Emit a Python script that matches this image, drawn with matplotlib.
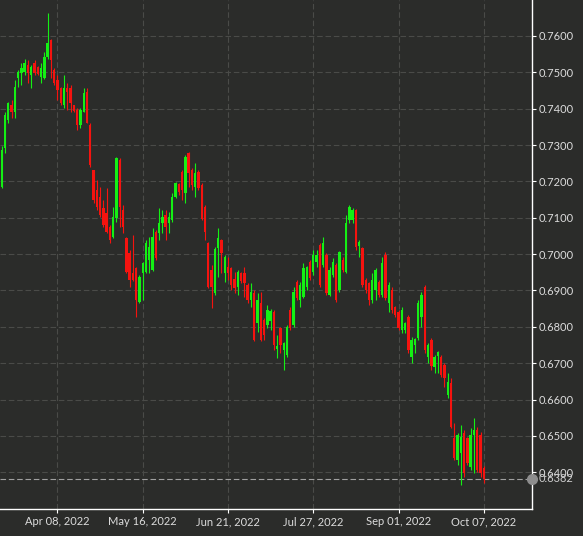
import numpy as np
import pandas as pd
import matplotlib
matplotlib.use("Agg")
import matplotlib.pyplot as plt

# daily OHLC, one candle per business day from 2022-03-16
opens = [
    0.7185, 0.7292, 0.7369, 0.7410, 0.7391, 0.7485, 0.7498, 0.7501, 0.7520, 0.7493,
    0.7526, 0.7515, 0.7487, 0.7485, 0.7542, 0.7589, 0.7507, 0.7479, 0.7457, 0.7410,
    0.7457, 0.7457, 0.7410, 0.7397, 0.7355, 0.7391, 0.7446, 0.7355, 0.7232, 0.7177,
    0.7157, 0.7127, 0.7113, 0.7075, 0.7047, 0.7100, 0.7259, 0.7122, 0.7044, 0.7003,
    0.6948, 0.6962, 0.6869, 0.6948, 0.6951, 0.6984, 0.6957, 0.7061, 0.7058, 0.7086,
    0.7108, 0.7086, 0.7094, 0.7157, 0.7193, 0.7226, 0.7168, 0.7278, 0.7232, 0.7185,
    0.7226, 0.7190, 0.7130, 0.7031, 0.6957, 0.6893, 0.7017, 0.7039, 0.6948, 0.6965,
    0.6962, 0.6932, 0.6910, 0.6948, 0.6948, 0.6915, 0.6874, 0.6893, 0.6811, 0.6866,
    0.6819, 0.6805, 0.6816, 0.6841, 0.6739, 0.6797, 0.6736, 0.6723, 0.6846, 0.6805,
    0.6924, 0.6874, 0.6882, 0.6910, 0.6979, 0.6951, 0.6979, 0.7025, 0.6970, 0.6998,
    0.6888, 0.6943, 0.6970, 0.6901, 0.6984, 0.6951, 0.7094, 0.7094, 0.7122, 0.7022,
    0.7017, 0.6929, 0.6921, 0.6874, 0.6901, 0.6924, 0.6888, 0.6998, 0.6866, 0.6901,
    0.6855, 0.6841, 0.6791, 0.6791, 0.6827, 0.6717, 0.6750, 0.6769, 0.6827, 0.6910,
    0.6717, 0.6764, 0.6689, 0.6720, 0.6717, 0.6695, 0.6613, 0.6646, 0.6494, 0.6434,
    0.6453, 0.6508, 0.6494, 0.6415, 0.6503, 0.6516, 0.6503, 0.6412,
]
highs = [
    0.7298, 0.7391, 0.7419, 0.7424, 0.7479, 0.7507, 0.7526, 0.7537, 0.7534, 0.7520,
    0.7534, 0.7518, 0.7526, 0.7556, 0.7663, 0.7592, 0.7512, 0.7493, 0.7460, 0.7493,
    0.7471, 0.7465, 0.7410, 0.7402, 0.7402, 0.7457, 0.7457, 0.7361, 0.7232, 0.7204,
    0.7185, 0.7149, 0.7182, 0.7080, 0.7130, 0.7267, 0.7264, 0.7135, 0.7047, 0.7012,
    0.7053, 0.6965, 0.6943, 0.6979, 0.7039, 0.7047, 0.7072, 0.7066, 0.7127, 0.7122,
    0.7122, 0.7116, 0.7168, 0.7199, 0.7196, 0.7232, 0.7273, 0.7281, 0.7237, 0.7251,
    0.7232, 0.7196, 0.7135, 0.7033, 0.6970, 0.7020, 0.7072, 0.7042, 0.6998, 0.6992,
    0.6965, 0.6951, 0.6957, 0.6951, 0.6965, 0.6921, 0.6921, 0.6901, 0.6893, 0.6896,
    0.6824, 0.6860, 0.6849, 0.6846, 0.6778, 0.6800, 0.6758, 0.6805, 0.6855, 0.6910,
    0.6929, 0.6924, 0.6976, 0.6968, 0.6984, 0.7012, 0.7012, 0.7031, 0.7047, 0.7003,
    0.6965, 0.6989, 0.6976, 0.7009, 0.6992, 0.7108, 0.7135, 0.7127, 0.7125, 0.7039,
    0.7020, 0.6934, 0.6924, 0.6948, 0.6962, 0.6929, 0.6992, 0.7006, 0.6924, 0.6910,
    0.6858, 0.6846, 0.6855, 0.6813, 0.6833, 0.6772, 0.6769, 0.6874, 0.6896, 0.6915,
    0.6756, 0.6769, 0.6723, 0.6733, 0.6723, 0.6701, 0.6673, 0.6659, 0.6535, 0.6508,
    0.6530, 0.6516, 0.6497, 0.6521, 0.6549, 0.6524, 0.6510, 0.6417,
]
lows = [
    0.7182, 0.7278, 0.7361, 0.7375, 0.7375, 0.7460, 0.7465, 0.7493, 0.7471, 0.7457,
    0.7493, 0.7493, 0.7471, 0.7482, 0.7538, 0.7485, 0.7465, 0.7424, 0.7410, 0.7402,
    0.7397, 0.7391, 0.7391, 0.7342, 0.7347, 0.7391, 0.7361, 0.7240, 0.7141, 0.7122,
    0.7102, 0.7075, 0.7058, 0.7031, 0.7044, 0.7089, 0.7075, 0.7058, 0.6948, 0.6910,
    0.6926, 0.6827, 0.6866, 0.6874, 0.6948, 0.6948, 0.6954, 0.6984, 0.7039, 0.7058,
    0.7039, 0.7058, 0.7089, 0.7155, 0.7163, 0.7149, 0.7141, 0.7185, 0.7177, 0.7157,
    0.7177, 0.7094, 0.7039, 0.6907, 0.6852, 0.6888, 0.6937, 0.6948, 0.6924, 0.6929,
    0.6901, 0.6893, 0.6888, 0.6921, 0.6882, 0.6866, 0.6855, 0.6761, 0.6786, 0.6761,
    0.6764, 0.6797, 0.6791, 0.6736, 0.6714, 0.6728, 0.6681, 0.6717, 0.6791, 0.6800,
    0.6874, 0.6855, 0.6879, 0.6901, 0.6929, 0.6943, 0.6965, 0.6910, 0.6965, 0.6888,
    0.6885, 0.6937, 0.6869, 0.6896, 0.6951, 0.6948, 0.7086, 0.7086, 0.7012, 0.6992,
    0.6910, 0.6893, 0.6860, 0.6866, 0.6874, 0.6882, 0.6882, 0.6874, 0.6841, 0.6838,
    0.6827, 0.6791, 0.6783, 0.6783, 0.6728, 0.6701, 0.6728, 0.6764, 0.6800, 0.6728,
    0.6701, 0.6681, 0.6673, 0.6673, 0.6662, 0.6634, 0.6604, 0.6521, 0.6434, 0.6420,
    0.6365, 0.6387, 0.6420, 0.6406, 0.6398, 0.6401, 0.6387, 0.6370,
]
closes = [
    0.7287, 0.7383, 0.7416, 0.7391, 0.7460, 0.7501, 0.7512, 0.7526, 0.7498, 0.7515,
    0.7498, 0.7496, 0.7512, 0.7542, 0.7581, 0.7534, 0.7471, 0.7452, 0.7416, 0.7457,
    0.7446, 0.7416, 0.7394, 0.7355, 0.7397, 0.7443, 0.7361, 0.7245, 0.7149, 0.7130,
    0.7108, 0.7080, 0.7061, 0.7039, 0.7102, 0.7264, 0.7130, 0.7075, 0.6951, 0.6929,
    0.6929, 0.6874, 0.6937, 0.6976, 0.7031, 0.7020, 0.7047, 0.6989, 0.7086, 0.7102,
    0.7075, 0.7102, 0.7157, 0.7196, 0.7171, 0.7177, 0.7267, 0.7223, 0.7190, 0.7223,
    0.7182, 0.7097, 0.7061, 0.6910, 0.6910, 0.7014, 0.7044, 0.7003, 0.6992, 0.6948,
    0.6915, 0.6907, 0.6951, 0.6926, 0.6921, 0.6874, 0.6896, 0.6764, 0.6874, 0.6764,
    0.6778, 0.6846, 0.6843, 0.6750, 0.6747, 0.6750, 0.6756, 0.6800, 0.6797, 0.6896,
    0.6879, 0.6915, 0.6962, 0.6965, 0.6934, 0.6998, 0.6998, 0.6915, 0.7031, 0.6893,
    0.6957, 0.6979, 0.6874, 0.7006, 0.6957, 0.7086, 0.7130, 0.7122, 0.7020, 0.7033,
    0.6915, 0.6901, 0.6874, 0.6929, 0.6957, 0.6888, 0.6976, 0.6879, 0.6915, 0.6846,
    0.6833, 0.6797, 0.6846, 0.6811, 0.6736, 0.6764, 0.6767, 0.6866, 0.6888, 0.6736,
    0.6750, 0.6692, 0.6717, 0.6731, 0.6668, 0.6659, 0.6649, 0.6524, 0.6439, 0.6503,
    0.6497, 0.6398, 0.6426, 0.6503, 0.6516, 0.6406, 0.6398, 0.6382,
]

start_date = "2022-03-16"
tick_dates = ["2022-04-08", "2022-05-16", "2022-06-21", "2022-07-27", "2022-09-01", "2022-10-07"]
y_ticks = [0.64, 0.65, 0.66, 0.67, 0.68, 0.69, 0.70, 0.71, 0.72, 0.73, 0.74, 0.75, 0.76]
last_price = closes[-1]

BG = "#2b2c2a"
GRID = "#4a4b48"
UP = "#14f014"
DOWN = "#f5130f"
TXT = "#dcdcdc"

plt.rcParams["font.family"] = ["Lato", "DejaVu Sans"]

dates = pd.bdate_range(start_date, periods=len(opens))
x = np.arange(len(opens))
o = np.array(opens)
h = np.array(highs)
l = np.array(lows)
c = np.array(closes)
colors = np.where(c >= o, UP, DOWN)

fig = plt.figure(figsize=(5.83, 5.36), dpi=100, facecolor=BG)
ax = fig.add_axes([0, 27 / 536, 532 / 583, 509 / 536])
ax.set_facecolor(BG)

ax.vlines(x, l, h, colors=colors, linewidth=0.8, zorder=3)
ax.bar(x, np.maximum(np.abs(c - o), 0.00025), bottom=np.minimum(o, c),
       width=0.72, color=colors, linewidth=0, zorder=3)

# last price marker
ax.axhline(last_price, color="#a0a0a0", linestyle=(0, (5, 2.5)), linewidth=0.8, zorder=2)
ax.plot(1, last_price, transform=ax.get_yaxis_transform(), marker="o", ms=7,
        color="#8e8e8e", clip_on=False, zorder=6)
ax.annotate(f"{last_price:.4f}", xy=(1, last_price), xycoords=("axes fraction", "data"),
            xytext=(4.8, 0), textcoords="offset points", va="center", ha="left",
            color="#cfcfcf", fontsize=8, annotation_clip=False)

tick_pos = [dates.get_loc(pd.Timestamp(d)) for d in tick_dates]
ax.set_xticks(tick_pos)
ax.set_xticklabels([pd.Timestamp(d).strftime("%b %d, %Y") for d in tick_dates])
ax.set_yticks(y_ticks)
ax.set_yticklabels([f"{v:.4f}" for v in y_ticks])
ax.set_xlim(-0.52, 161.7)
ax.set_ylim(0.6299, 0.7699)

ax.yaxis.tick_right()
ax.tick_params(axis="both", colors="white", labelcolor=TXT, labelsize=8,
               length=3, width=0.8, pad=2)
for side in ["top", "left"]:
    ax.spines[side].set_visible(False)
for side in ["right", "bottom"]:
    ax.spines[side].set_color("white")
    ax.spines[side].set_linewidth(1)

ax.set_axisbelow(True)
ax.grid(True, color=GRID, linestyle=(0, (5, 2.5)), linewidth=0.8)

fig.savefig("out.png", dpi=100, facecolor=BG)
